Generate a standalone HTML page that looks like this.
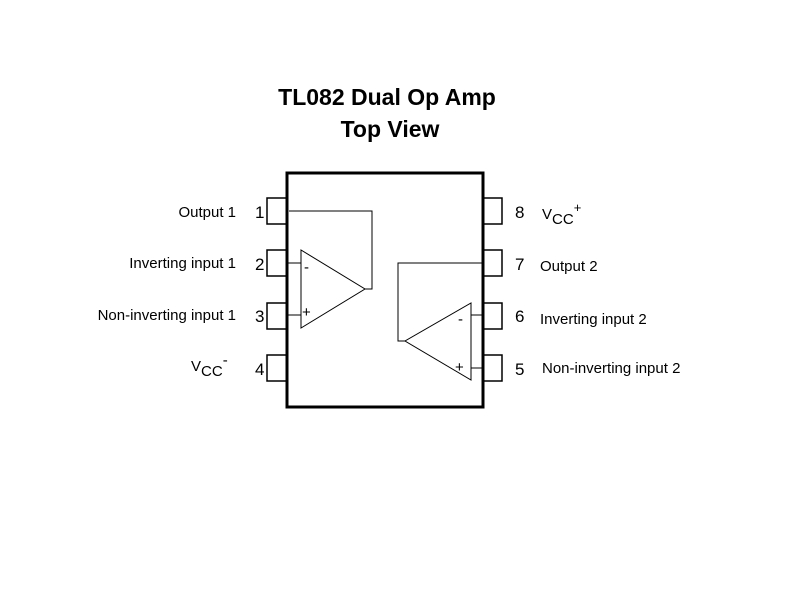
<!DOCTYPE html>
<html><head><style>body{margin:0;background:#fff}</style></head><body>
<svg width="800" height="600" xmlns="http://www.w3.org/2000/svg" font-family="Liberation Sans, sans-serif">
<rect width="800" height="600" fill="#fff"/>
<text x="387" y="105" text-anchor="middle" font-size="23" font-weight="bold">TL082 Dual Op Amp</text>
<text x="390" y="137" text-anchor="middle" font-size="23" font-weight="bold">Top View</text>
<rect x="287" y="173" width="196" height="234" fill="none" stroke="#000" stroke-width="3"/>
<g fill="none" stroke="#000" stroke-width="1.5">
<rect x="267" y="198" width="20" height="26"/><rect x="267" y="250" width="20" height="26"/>
<rect x="267" y="303" width="20" height="26"/><rect x="267" y="355" width="20" height="26"/>
<rect x="483" y="198" width="19" height="26"/><rect x="483" y="250" width="19" height="26"/>
<rect x="483" y="303" width="19" height="26"/><rect x="483" y="355" width="19" height="26"/>
</g>
<g fill="none" stroke="#000" stroke-width="1">
<polygon points="301,250 301,328 365,289"/>
<polyline points="365,289 372,289 372,211 289,211"/>
<line x1="287" y1="263" x2="301" y2="263"/><line x1="287" y1="315" x2="301" y2="315"/>
<polygon points="471,303 471,380 405,341"/>
<polyline points="405,341 398,341 398,263 483,263"/>
<line x1="471" y1="315" x2="483" y2="315"/><line x1="471" y1="368" x2="483" y2="368"/>
</g>
<g font-size="15">
<text x="304" y="272">-</text><text x="302" y="317">+</text>
<text x="458" y="324">-</text><text x="455" y="372">+</text>
</g>
<g font-size="17">
<text x="255" y="218">1</text><text x="255" y="270">2</text><text x="255" y="322">3</text><text x="255" y="375">4</text>
<text x="515" y="218">8</text><text x="515" y="270">7</text><text x="515" y="322">6</text><text x="515" y="375">5</text>
</g>
<g font-size="15">
<text x="236" y="217" text-anchor="end">Output 1</text>
<text x="236" y="268" text-anchor="end">Inverting input 1</text>
<text x="236" y="320" text-anchor="end">Non-inverting input 1</text>
<text x="540" y="271">Output 2</text>
<text x="540" y="324">Inverting input 2</text>
<text x="542" y="373">Non-inverting input 2</text>
<text x="191" y="371">V<tspan font-size="15" dy="5">CC</tspan><tspan dy="-11">-</tspan></text>
<text x="542" y="219">V<tspan dy="5">CC</tspan><tspan dy="-12" font-size="13">+</tspan></text>
</g>
</svg>
</body></html>
